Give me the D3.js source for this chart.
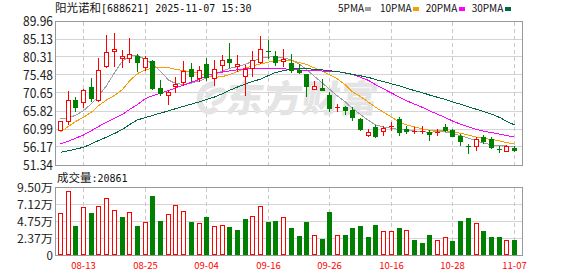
<!DOCTYPE html>
<html><head><meta charset="utf-8">
<script src="https://cdn.jsdelivr.net/npm/d3@7"></script>
<style>
html,body{margin:0;padding:0;background:#fff;}
svg{display:block;}
text{font-family:"Noto Sans CJK SC","Liberation Sans",sans-serif;}
</style></head><body>
<svg id="c" width="578" height="276"></svg>
<script>
const dates = ["08-08","08-11","08-12","08-13","08-14","08-15","08-18","08-19","08-20","08-21",
"08-22","08-25","08-26","08-27","08-28","08-29","09-01","09-02","09-03","09-04",
"09-05","09-08","09-09","09-10","09-11","09-12","09-15","09-16","09-17","09-18",
"09-19","09-22","09-23","09-24","09-25","09-26","09-29","09-30","10-09","10-10",
"10-13","10-14","10-15","10-16","10-17","10-20","10-21","10-22","10-23","10-24",
"10-27","10-28","10-29","10-30","10-31","11-03","11-04","11-05","11-06","11-07"];
const opens = [60.81,63.06,68.69,68.16,72.18,68.85,77.97,81.99,80.04,80.04,
80.49,77.54,79.15,71.99,70.19,72.6,73.52,77.09,74.67,78.43,
74.67,78.08,79.77,77.97,75.13,77.35,78.88,81.95,80.65,79.15,
78.7,76.9,75.74,71.72,71.99,70.19,66.7,66.9,66.17,63.68,
59.47,61.45,60.38,61.6,63.68,61.0,60.3,60.2,60.19,59.9,
61.45,60.65,59.04,56.35,56.35,58.85,58.31,55.63,55.01,55.9];
const highs = [63.2,71.27,69.58,71.6,74.67,80.04,86.29,86.74,82.26,85.4,
81.19,80.65,79.42,74.14,71.53,74.86,79.31,78.7,77.81,80.04,
79.42,80.92,84.06,80.76,78.24,81.83,85.86,84.94,81.83,82.45,
81.19,78.43,75.8,73.79,74.4,70.92,67.7,67.08,66.81,63.94,
61.0,61.99,61.72,62.79,64.21,61.72,61.6,61.72,60.81,61.0,
62.33,61.0,59.65,56.97,58.85,59.47,58.77,56.35,56.78,56.35];
const lows = [60.65,62.33,65.9,66.81,68.58,68.42,77.62,77.81,77.62,78.88,
76.63,76.9,71.72,70.19,67.78,70.92,72.88,73.79,73.95,74.22,
72.88,76.9,77.54,76.47,70.19,75.13,78.7,80.04,78.24,77.81,
76.2,76.01,69.93,71.72,71.37,65.74,65.9,65.02,63.33,60.81,
59.2,58.85,59.31,60.81,59.47,59.92,59.92,59.92,58.13,59.3,
60.54,59.04,56.78,54.56,55.44,57.24,55.9,54.83,55.01,55.17];
const closes = [63.06,68.69,66.98,71.45,69.31,76.74,81.57,82.45,80.65,81.11,
78.88,80.04,71.99,70.65,70.92,73.1,76.63,75.13,76.74,74.86,
77.09,79.42,78.88,78.43,77.09,79.42,82.45,81.75,78.88,79.77,
76.9,76.29,72.45,72.61,71.37,66.63,66.9,66.17,64.21,61.07,
60.11,59.2,61.26,61.8,60.11,60.54,60.45,60.35,59.74,60.2,
60.65,59.2,57.86,56.09,58.39,57.7,56.17,55.44,56.52,55.44];
const prevClose = 61.0;
const volumes = [58300,89400,40500,66600,58300,68000,79200,62400,53100,59600,
40500,45700,82400,47500,56800,69400,61000,46100,44200,53100,
40500,41500,39100,34900,50300,54000,68000,46100,47500,52700,
38100,26500,46100,27500,22400,60100,27500,27900,37700,40500,
25100,41900,33100,33100,37700,34500,21000,16800,27900,21000,
25100,19600,47500,51700,44200,33500,25100,25100,20500,20861];
const ma5 = [63.76,64.00,64.67,65.90,67.83,69.79,72.61,76.12,79.23,80.49,
80.73,79.63,78.48,76.47,74.14,73.22,72.96,73.33,73.87,74.73,
75.56,76.55,77.27,77.73,78.37,79.10,79.96,80.28,80.41,80.06,
79.53,78.32,77.01,75.10,73.28,71.64,69.82,68.21,66.49,64.86,
63.30,62.09,61.53,61.21,60.83,60.65,60.46,60.27,60.11,60.27,
60.19,59.76,59.25,58.53,57.78,57.21,56.76,56.52,56.44,56.36];
const ma10 = [60.19,61.72,62.98,64.13,65.53,67.22,68.77,69.98,71.59,73.87,
75.88,76.87,77.36,77.52,77.46,77.01,76.63,76.31,75.96,75.40,
74.86,75.05,75.61,76.39,77.27,77.95,78.43,78.94,79.34,79.34,
79.31,78.80,78.29,77.38,76.47,75.59,74.40,72.80,70.95,69.71,
68.18,66.82,65.50,64.19,62.87,62.09,61.56,61.02,60.62,60.59,
60.51,60.19,59.87,59.33,58.82,58.42,58.21,57.80,57.37,56.95];
const ma20 = [56.97,57.72,58.50,59.39,60.57,61.64,62.82,63.84,64.91,66.23,
67.57,69.18,69.90,70.65,71.32,71.99,72.74,73.52,74.35,75.18,
76.01,76.28,76.58,76.87,77.17,77.22,77.27,77.33,77.30,77.14,
76.98,76.82,76.66,76.60,76.55,76.50,76.39,76.07,75.59,74.86,
74.03,72.90,71.75,70.65,69.52,68.56,67.67,66.79,65.88,64.96,
64.05,63.14,62.28,61.59,60.89,60.43,60.03,59.63,59.23,58.82];
const ma30 = [54.75,55.15,55.58,56.09,57.03,57.91,58.80,59.79,60.89,62.18,
63.44,64.05,64.64,65.26,65.85,66.44,67.06,67.67,68.29,68.93,
69.58,70.46,71.37,72.26,73.06,73.73,74.38,75.32,76.15,76.63,
77.09,77.14,77.17,77.01,76.82,76.63,76.39,76.01,75.64,75.26,
74.83,74.27,73.71,73.12,72.55,71.96,71.29,70.73,70.11,69.50,
68.91,68.26,67.65,66.92,66.28,65.66,64.99,64.11,63.09,62.07];
const priceTicks = [89.96,85.13,80.31,75.48,70.65,65.82,60.99,56.17,51.34];
const volTicks = [95000,71250,47500,23750,0];
const volTickLabels = ["9.50万","7.12万","4.75万","2.37万","0"];
const dateTicks = ["08-13","08-25","09-04","09-16","09-26","10-16","10-28","11-07"];
const maNames = ["5PMA","10PMA","20PMA","30PMA"];
const titleName = "阳光诺和";
const titleInfo = "[688621] 2025-11-07 15:30";
const volName = "成交量";
const volInfo = ":20861";
const watermark = "东方财富";

const RED="#ff0000", GREEN="#008000";
const maColors = ["#a0a0a0","#f5a000","#ff00ff","#00693e"];
const MONO = "'DejaVu Sans Mono',monospace";
const CJK = "'Noto Sans CJK SC',sans-serif";
const svg = d3.select("#c");
const left=55, right=522, mTop=21, mBot=165, vTop=187, vBot=255;

const x = d3.scaleBand().domain(dates).range([56.65, 56.65 + 60*7.695]).padding(0);
const bw = x.bandwidth();
const cx = d => Math.floor(x(d) + bw/2);
const y = d3.scaleLinear().domain([51.34, 89.96]).range([mBot, mTop]);
const yv = d3.scaleLinear().domain([0, 95000]).range([vBot, vTop]);
const px = v => Math.floor(v) + 0.5;

// grid
const grid = svg.append("g").attr("shape-rendering","crispEdges");
priceTicks.forEach(t => grid.append("line").attr("x1",left).attr("x2",right+1)
  .attr("y1",px(y(t))).attr("y2",px(y(t))).attr("stroke","#d4d4d4"));
volTicks.forEach(t => grid.append("line").attr("x1",left).attr("x2",right+1)
  .attr("y1",px(yv(t))).attr("y2",px(yv(t))).attr("stroke","#d4d4d4"));
dateTicks.forEach(d => {
  [[mTop,mBot],[vTop,vBot]].forEach(([a,b]) => grid.append("line")
    .attr("x1",cx(d)+0.5).attr("x2",cx(d)+0.5).attr("y1",a+1).attr("y2",b)
    .attr("stroke","#c8c8c8").attr("stroke-dasharray","4,3"));
});

// watermark (logo swirl + name)
const wm = svg.append("g").attr("fill","none").attr("stroke","#e4e4e4");
wm.append("path").attr("d","M214,84 C200,86 196,100 203,109 C207,113 213,112 216,108").attr("stroke-width",6);
wm.append("path").attr("d","M206,98 C212,90 222,88 224,92 C226,97 219,103 212,104").attr("stroke-width",5);
svg.append("text").attr("x",226).attr("y",112).text(watermark)
  .attr("font-family",CJK).attr("font-size",37).attr("font-weight",900).attr("fill","#e4e4e4")
  .attr("transform","skewX(-8) translate(14,0)").attr("textLength",152).attr("lengthAdjust","spacingAndGlyphs");

// frames
[[mTop,mBot],[vTop,vBot]].forEach(([a,b]) => svg.append("rect")
  .attr("x",left+0.5).attr("y",a+0.5).attr("width",right-left).attr("height",b-a)
  .attr("fill","none").attr("stroke","#999").attr("shape-rendering","crispEdges"));

// MA lines
const mas = [ma5, ma10, ma20, ma30];
const line = d3.line().x((v,i)=>cx(dates[i])+0.5).y(v=>y(v));
mas.forEach((m,k) => svg.append("path").attr("d", line(m)).attr("fill","none")
  .attr("stroke",maColors[k]).attr("stroke-width",1).attr("shape-rendering","crispEdges"));

// candles
const cg = svg.append("g").attr("shape-rendering","crispEdges");
dates.forEach((d,i) => {
  const o=opens[i], c=closes[i], h=highs[i], l=lows[i];
  const up = c >= o;
  const col = up ? RED : GREEN;
  const X = cx(d);
  const yh = Math.round(y(h)), yl = Math.round(y(l));
  const yt = Math.round(y(Math.max(o,c))), yb = Math.round(y(Math.min(o,c)));
  cg.append("line").attr("x1",X+0.5).attr("x2",X+0.5).attr("y1",yh).attr("y2",yl+1).attr("stroke",col);
  if (yb - yt <= 1) {
    cg.append("rect").attr("x",X-2).attr("y",yt).attr("width",5).attr("height",1).attr("fill",col);
  } else if (up) {
    cg.append("rect").attr("x",X-1.5).attr("y",yt+0.5).attr("width",4).attr("height",yb-yt)
      .attr("fill","#fff").attr("stroke",col);
  } else {
    cg.append("rect").attr("x",X-2).attr("y",yt).attr("width",5).attr("height",yb-yt+1).attr("fill",col);
  }
});

// volume bars
const vg = svg.append("g").attr("shape-rendering","crispEdges");
dates.forEach((d,i) => {
  const pc = i === 0 ? prevClose : closes[i-1];
  const up = closes[i] >= pc;
  const X = cx(d);
  const top = Math.round(yv(volumes[i]));
  if (up) {
    vg.append("rect").attr("x",X-1.5).attr("y",top+0.5).attr("width",4).attr("height",vBot-top-1)
      .attr("fill","#fff").attr("stroke",RED);
  } else {
    vg.append("rect").attr("x",X-2).attr("y",top).attr("width",5).attr("height",vBot-top).attr("fill",GREEN);
  }
});

// axes
const ya = svg.append("g").attr("transform","translate(53,0)")
  .call(d3.axisLeft(y).tickValues(priceTicks).tickFormat(d=>d.toFixed(2)).tickSize(0).tickPadding(0));
ya.select(".domain").remove();
ya.selectAll("text").attr("font-family","'Liberation Sans',sans-serif").attr("font-size",13)
  .attr("fill","#222").attr("textLength",30).attr("lengthAdjust","spacingAndGlyphs").attr("dy","0.36em");

const va = svg.append("g").attr("transform","translate(53,0)")
  .call(d3.axisLeft(yv).tickValues(volTicks).tickFormat((d,i)=>volTickLabels[i]).tickSize(0).tickPadding(0));
va.select(".domain").remove();
va.selectAll("text").attr("font-family","'Liberation Sans','Noto Sans CJK SC',sans-serif").attr("font-size",11.5)
  .attr("fill","#222").attr("dy","0.36em")
  .each(function(d,i){ if (volTickLabels[i].length>1) d3.select(this).attr("textLength",36).attr("lengthAdjust","spacingAndGlyphs"); });

const xa = svg.append("g").attr("transform",`translate(0,${vBot})`)
  .call(d3.axisBottom(x).tickValues(dateTicks).tickSize(0).tickPadding(0));
xa.select(".domain").remove();
xa.selectAll(".tick").attr("transform", d => `translate(${cx(d)+0.5},0)`);
xa.selectAll("text").attr("font-family",MONO).attr("font-size",9.5)
  .attr("fill",RED).attr("dy",null).attr("y",14);

// titles
const t1 = svg.append("text").attr("x",55).attr("y",12).attr("fill","#111");
t1.append("tspan").attr("font-family",CJK).attr("font-size",11.5).text(titleName);
t1.append("tspan").attr("font-family",MONO).attr("font-size",10).text(titleInfo);
const t2 = svg.append("text").attr("x",57).attr("y",182).attr("fill","#111");
t2.append("tspan").attr("font-family",CJK).attr("font-size",11.5).text(volName);
t2.append("tspan").attr("font-family",MONO).attr("font-size",10).text(volInfo);

// legend
const legX = [338, 380, 425.7, 471.7];
const sqX = [365, 413, 459, 505];
maNames.forEach((n,k) => {
  svg.append("text").attr("x",legX[k]).attr("y",12).text(n).attr("font-family",MONO)
    .attr("font-size",10).attr("fill","#111");
  svg.append("rect").attr("x",sqX[k]).attr("y",7).attr("width",6).attr("height",4).attr("fill",maColors[k]);
});
</script>
</body></html>
